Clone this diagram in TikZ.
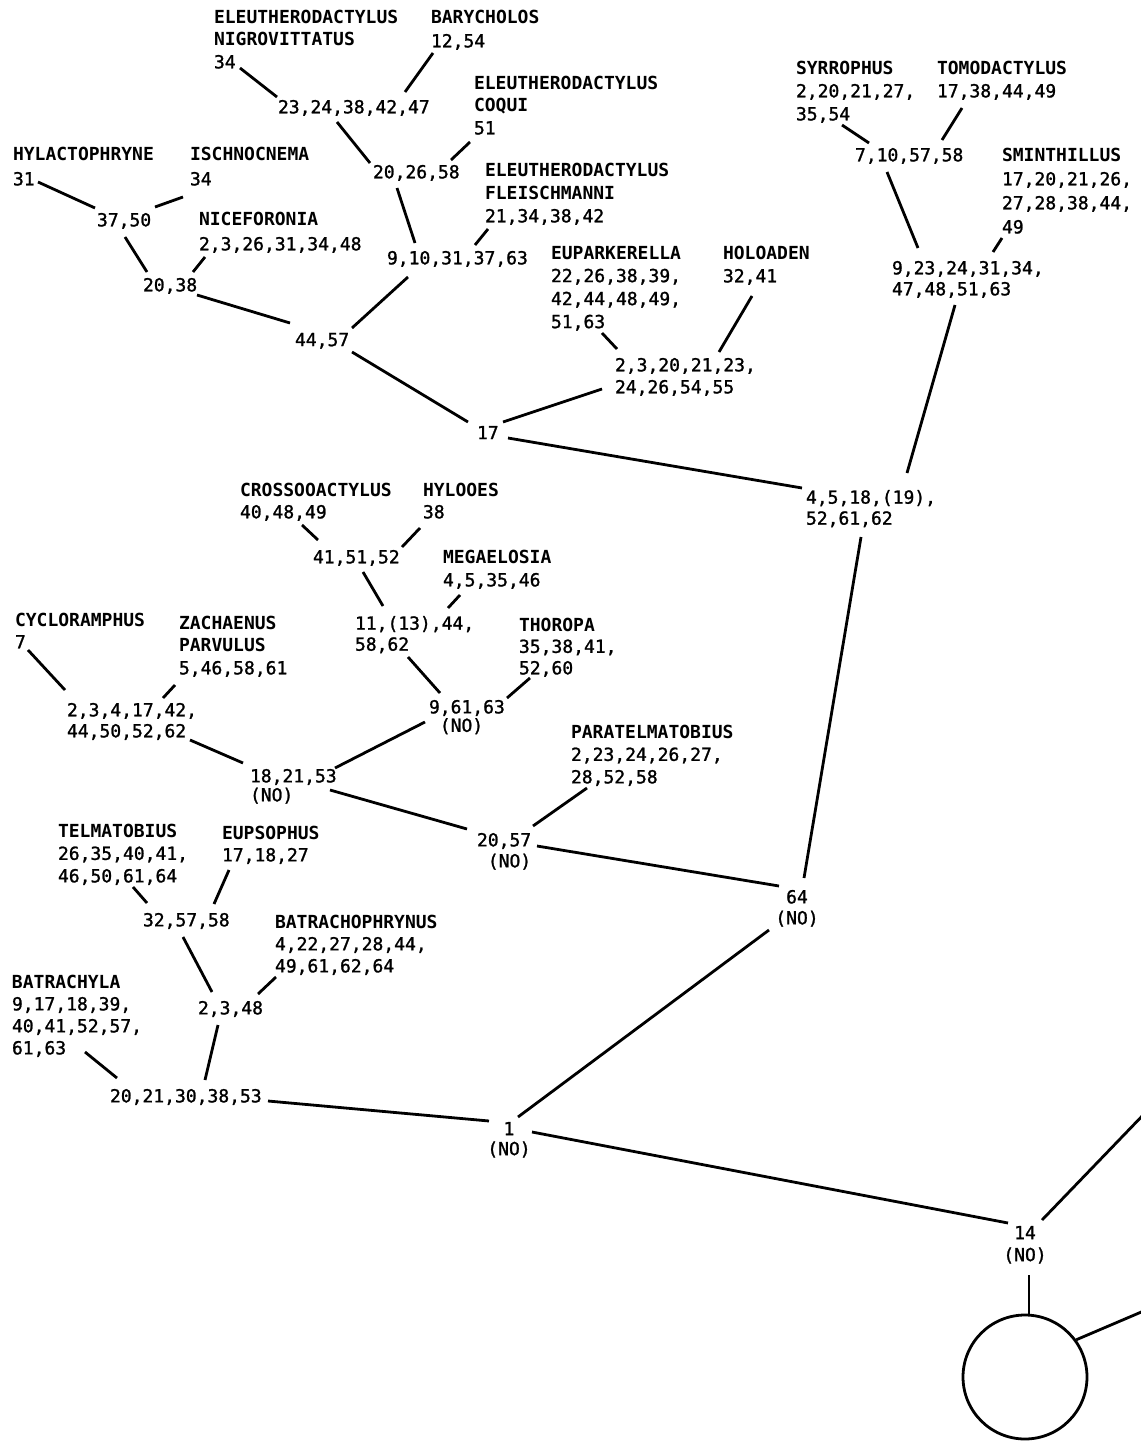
\documentclass[tikz,border=0pt]{standalone}
\usepackage{fontspec}
\newfontfamily\tmono{DejaVu Sans Mono}[UprightFeatures={FakeBold=1.3}]
\newcommand\lf[1]{\tmono\fontsize{18}{#1}\selectfont}
\newcommand\nm[1]{\textbf{#1}}
\tikzset{
  lbl/.style={inner sep=0pt, outer sep=0pt, anchor=north west, align=left, font=\lf{22}},
  clbl/.style={inner sep=0pt, outer sep=0pt, anchor=north, align=center, font=\lf{21}},
  ln/.style={line width=2.8pt},
}
\begin{document}
\begin{tikzpicture}[x=1pt,y=-1pt]
\useasboundingbox[fill=white] (0,0) rectangle (1140,1442);
% ---- labels ----
\node[lbl, font=\lf{22.5}] (nig) at (214,10) {\nm{ELEUTHERODACTYLUS}\\\nm{NIGROVITTATUS}\\34};
\node[lbl, font=\lf{24}] (bary) at (431,10) {\nm{BARYCHOLOS}\\12,54};
\node[lbl] (n2324) at (278,100) {23,24,38,42,47};
\node[lbl, font=\lf{22.5}] (coqui) at (474,76) {\nm{ELEUTHERODACTYLUS}\\\nm{COQUI}\\51};
\node[lbl] (n2026) at (373,165) {20,26,58};
\node[lbl, font=\lf{25}] (hyla) at (13,147) {\nm{HYLACTOPHRYNE}\\31};
\node[lbl, font=\lf{25}] (isch) at (190,147) {\nm{ISCHNOCNEMA}\\34};
\node[lbl] (n3750) at (97,213) {37,50};
\node[lbl, font=\lf{25}] (nice) at (199,212) {\nm{NICEFORONIA}\\2,3,26,31,34,48};
\node[lbl, font=\lf{23}] (flei) at (485,163) {\nm{ELEUTHERODACTYLUS}\\\nm{FLEISCHMANNI}\\21,34,38,42};
\node[lbl] (n910) at (387,251) {9,10,31,37,63};
\node[lbl] (n2038) at (143,278) {20,38};
\node[lbl, font=\lf{23}] (eupa) at (551,246) {\nm{EUPARKERELLA}\\22,26,38,39,\\42,44,48,49,\\51,63};
\node[lbl, font=\lf{23}] (holo) at (723,246) {\nm{HOLOADEN}\\32,41};
\node[lbl] (n4457) at (295,333) {44,57};
\node[lbl, font=\lf{22}] (n2320) at (615,358) {2,3,20,21,23,\\24,26,54,55};
\node[lbl] (n17) at (477,426) {17};
\node[lbl, font=\lf{23}] (syrr) at (796,61) {\nm{SYRROPHUS}\\2,20,21,27,\\35,54};
\node[lbl, font=\lf{23}] (tomo) at (937,61) {\nm{TOMODACTYLUS}\\17,38,44,49};
\node[lbl] (n710) at (855,148) {7,10,57,58};
\node[lbl, font=\lf{24}] (smin) at (1002,148) {\nm{SMINTHILLUS}\\17,20,21,26,\\27,28,38,44,\\49};
\node[lbl, font=\lf{21}] (n923) at (892,261) {9,23,24,31,34,\\47,48,51,63};
\node[lbl, font=\lf{21}] (n4518) at (806,490) {4,5,18,(19),\\52,61,62};
\node[lbl, font=\lf{22}] (cros) at (240,483) {\nm{CROSSOOACTYLUS}\\40,48,49};
\node[lbl, font=\lf{22}] (hyloo) at (423,483) {\nm{HYLOOES}\\38};
\node[lbl] (n4151) at (313,550) {41,51,52};
\node[lbl, font=\lf{23}] (mega) at (443,550) {\nm{MEGAELOSIA}\\4,5,35,46};
\node[lbl, font=\lf{21}] (n11) at (355,616) {11,(13),44,\\58,62};
\node[lbl, font=\lf{22}] (cycl) at (15,613) {\nm{CYCLORAMPHUS}\\7};
\node[lbl, font=\lf{22.5}] (zach) at (179,616) {\nm{ZACHAENUS}\\\nm{PARVULUS}\\5,46,58,61};
\node[lbl, font=\lf{21.5}] (thor) at (519,618) {\nm{THOROPA}\\35,38,41,\\52,60};
\node[lbl, font=\lf{21}] (n234) at (67,703) {2,3,4,17,42,\\44,50,52,62};
\node[lbl, font=\lf{18.5}] (n961) at (429,700) {9,61,63\\\phantom{9}(NO)};
\node[lbl, font=\lf{22.5}] (para) at (571,725) {\nm{PARATELMATOBIUS}\\2,23,24,26,27,\\28,52,58};
\node[lbl, font=\lf{19}] (n1821) at (250,769) {18,21,53\\(NO)};
\node[lbl, font=\lf{21}] (n2057) at (477,833) {20,57\\\phantom{2}(NO)};
\node[lbl, font=\lf{22.5}] (telm) at (58,824) {\nm{TELMATOBIUS}\\26,35,40,41,\\46,50,61,64};
\node[lbl, font=\lf{22}] (eups) at (222,826) {\nm{EUPSOPHUS}\\17,18,27};
\node[lbl] (n3257) at (143,913) {32,57,58};
\node[lbl, font=\lf{22}] (batph) at (275,915) {\nm{BATRACHOPHRYNUS}\\4,22,27,28,44,\\49,61,62,64};
\node[lbl, font=\lf{22}] (batla) at (12,975) {\nm{BATRACHYLA}\\9,17,18,39,\\40,41,52,57,\\61,63};
\node[lbl] (n2348) at (198,1001) {2,3,48};
\node[lbl] (n2021) at (110,1089) {20,21,30,38,53};
\node[clbl, font=\lf{21}] (n64) at (797,890) {64\\(NO)};
\node[clbl, font=\lf{20}] (n1) at (509,1122) {1\\(NO)};
\node[clbl, font=\lf{22}] (n14) at (1025,1226) {14\\(NO)};
\node[circle, draw, line width=2.8pt, minimum size=124pt, inner sep=0pt] (circ) at (1025,1377) {};
\coordinate (e1) at (1146,1112);
\coordinate (e2) at (1146,1310);
% ---- connectors ----
\draw[ln] ([shift={(26,58)}]nig.north west) -- ([shift={(-1,-3)}]n2324.north west);
\draw[ln] ([shift={(2,43)}]bary.north west) -- ([shift={(127,-8)}]n2324.north west);
\draw[ln] ([shift={(59,22)}]n2324.north west) -- ([shift={(-3,-2)}]n2026.north west);
\draw[ln] ([shift={(-4,66)}]coqui.north west) -- ([shift={(78,-5)}]n2026.north west);
\draw[ln] ([shift={(24,23)}]n2026.north west) -- ([shift={(28,-8)}]n910.north west);
\draw[ln] ([shift={(3,66)}]flei.north west) -- ([shift={(88,-6)}]n910.north west);
\draw[ln] ([shift={(21,26)}]n910.north west) -- ([shift={(57,-5)}]n4457.north west);
\draw[ln] ([shift={(25,35)}]hyla.north west) -- ([shift={(-2,-5)}]n3750.north west);
\draw[ln] ([shift={(-7,50)}]isch.north west) -- ([shift={(58,-6)}]n3750.north west);
\draw[ln] ([shift={(28,24)}]n3750.north west) -- ([shift={(4,-6)}]n2038.north west);
\draw[ln] ([shift={(6,45)}]nice.north west) -- ([shift={(50,-6)}]n2038.north west);
\draw[ln] ([shift={(54,17)}]n2038.north west) -- ([shift={(-5,-10)}]n4457.north west);
\draw[ln] ([shift={(57,19)}]n4457.north west) -- ([shift={(-9,-4)}]n17.north west);
\draw[ln] ([shift={(51,87)}]eupa.north west) -- ([shift={(2,-9)}]n2320.north west);
\draw[ln] ([shift={(29,50)}]holo.north west) -- ([shift={(104,-6)}]n2320.north west);
\draw[ln] ([shift={(-13,31)}]n2320.north west) -- ([shift={(26,-4)}]n17.north west);
\draw[ln] ([shift={(31,12)}]n17.north west) -- ([shift={(-4,-2)}]n4518.north west);
\draw[ln] ([shift={(46,64)}]syrr.north west) -- ([shift={(14,-5)}]n710.north west);
\draw[ln] ([shift={(25,47)}]tomo.north west) -- ([shift={(87,-8)}]n710.north west);
\draw[ln] ([shift={(32,24)}]n710.north west) -- ([shift={(26,-13)}]n923.north west);
\draw[ln] ([shift={(0,90)}]smin.north west) -- ([shift={(101,-9)}]n923.north west);
\draw[ln] ([shift={(63,44)}]n923.north west) -- ([shift={(101,-17)}]n4518.north west);
\draw[ln] ([shift={(55,47)}]n4518.north west) -- ([shift={(7,-12)}]n64.north);
\draw[ln] ([shift={(62,42)}]cros.north west) -- ([shift={(5,-10)}]n4151.north west);
\draw[ln] ([shift={(-3,45)}]hyloo.north west) -- ([shift={(89,-3)}]n4151.north west);
\draw[ln] ([shift={(50,22)}]n4151.north west) -- ([shift={(28,-10)}]n11.north west);
\draw[ln] ([shift={(17,45)}]mega.north west) -- ([shift={(93,-8)}]n11.north west);
\draw[ln] ([shift={(53,41)}]n11.north west) -- ([shift={(11,-7)}]n961.north west);
\draw[ln] ([shift={(11,60)}]thor.north west) -- ([shift={(78,-2)}]n961.north west);
\draw[ln] ([shift={(13,37)}]cycl.north west) -- ([shift={(-2,-13)}]n234.north west);
\draw[ln] ([shift={(-4,69)}]zach.north west) -- ([shift={(96,-5)}]n234.north west);
\draw[ln] ([shift={(123,37)}]n234.north west) -- ([shift={(-7,-6)}]n1821.north west);
\draw[ln] ([shift={(-4,22)}]n961.north west) -- ([shift={(85,-1)}]n1821.north west);
\draw[ln] ([shift={(80,21)}]n1821.north west) -- ([shift={(-10,-4)}]n2057.north west);
\draw[ln] ([shift={(16,63)}]para.north west) -- ([shift={(56,-7)}]n2057.north west);
\draw[ln] ([shift={(60,13)}]n2057.north west) -- ([shift={(-18,-4)}]n64.north);
\draw[ln] ([shift={(75,63)}]telm.north west) -- ([shift={(4,-10)}]n3257.north west);
\draw[ln] ([shift={(7,44)}]eups.north west) -- ([shift={(71,-9)}]n3257.north west);
\draw[ln] ([shift={(40,24)}]n3257.north west) -- ([shift={(14,-9)}]n2348.north west);
\draw[ln] ([shift={(1,62)}]batph.north west) -- ([shift={(60,-7)}]n2348.north west);
\draw[ln] ([shift={(73,77)}]batla.north west) -- ([shift={(7,-11)}]n2021.north west);
\draw[ln] ([shift={(20,24)}]n2348.north west) -- ([shift={(95,-9)}]n2021.north west);
\draw[ln] ([shift={(158,12)}]n2021.north west) -- ([shift={(-20,-1)}]n1.north);
\draw[ln] ([shift={(-28,40)}]n64.north) -- ([shift={(9,-5)}]n1.north);
\draw[ln] ([shift={(23,10)}]n1.north) -- ([shift={(-17,-3)}]n14.north);
\draw[ln] ([shift={(17,-6)}]n14.north) -- (e1);
\draw[ln] ([shift={(4,49)}]n14.north) -- ([shift={(4,0)}]circ.north);
\draw[ln] (circ.36) -- (e2);
\end{tikzpicture}
\end{document}
